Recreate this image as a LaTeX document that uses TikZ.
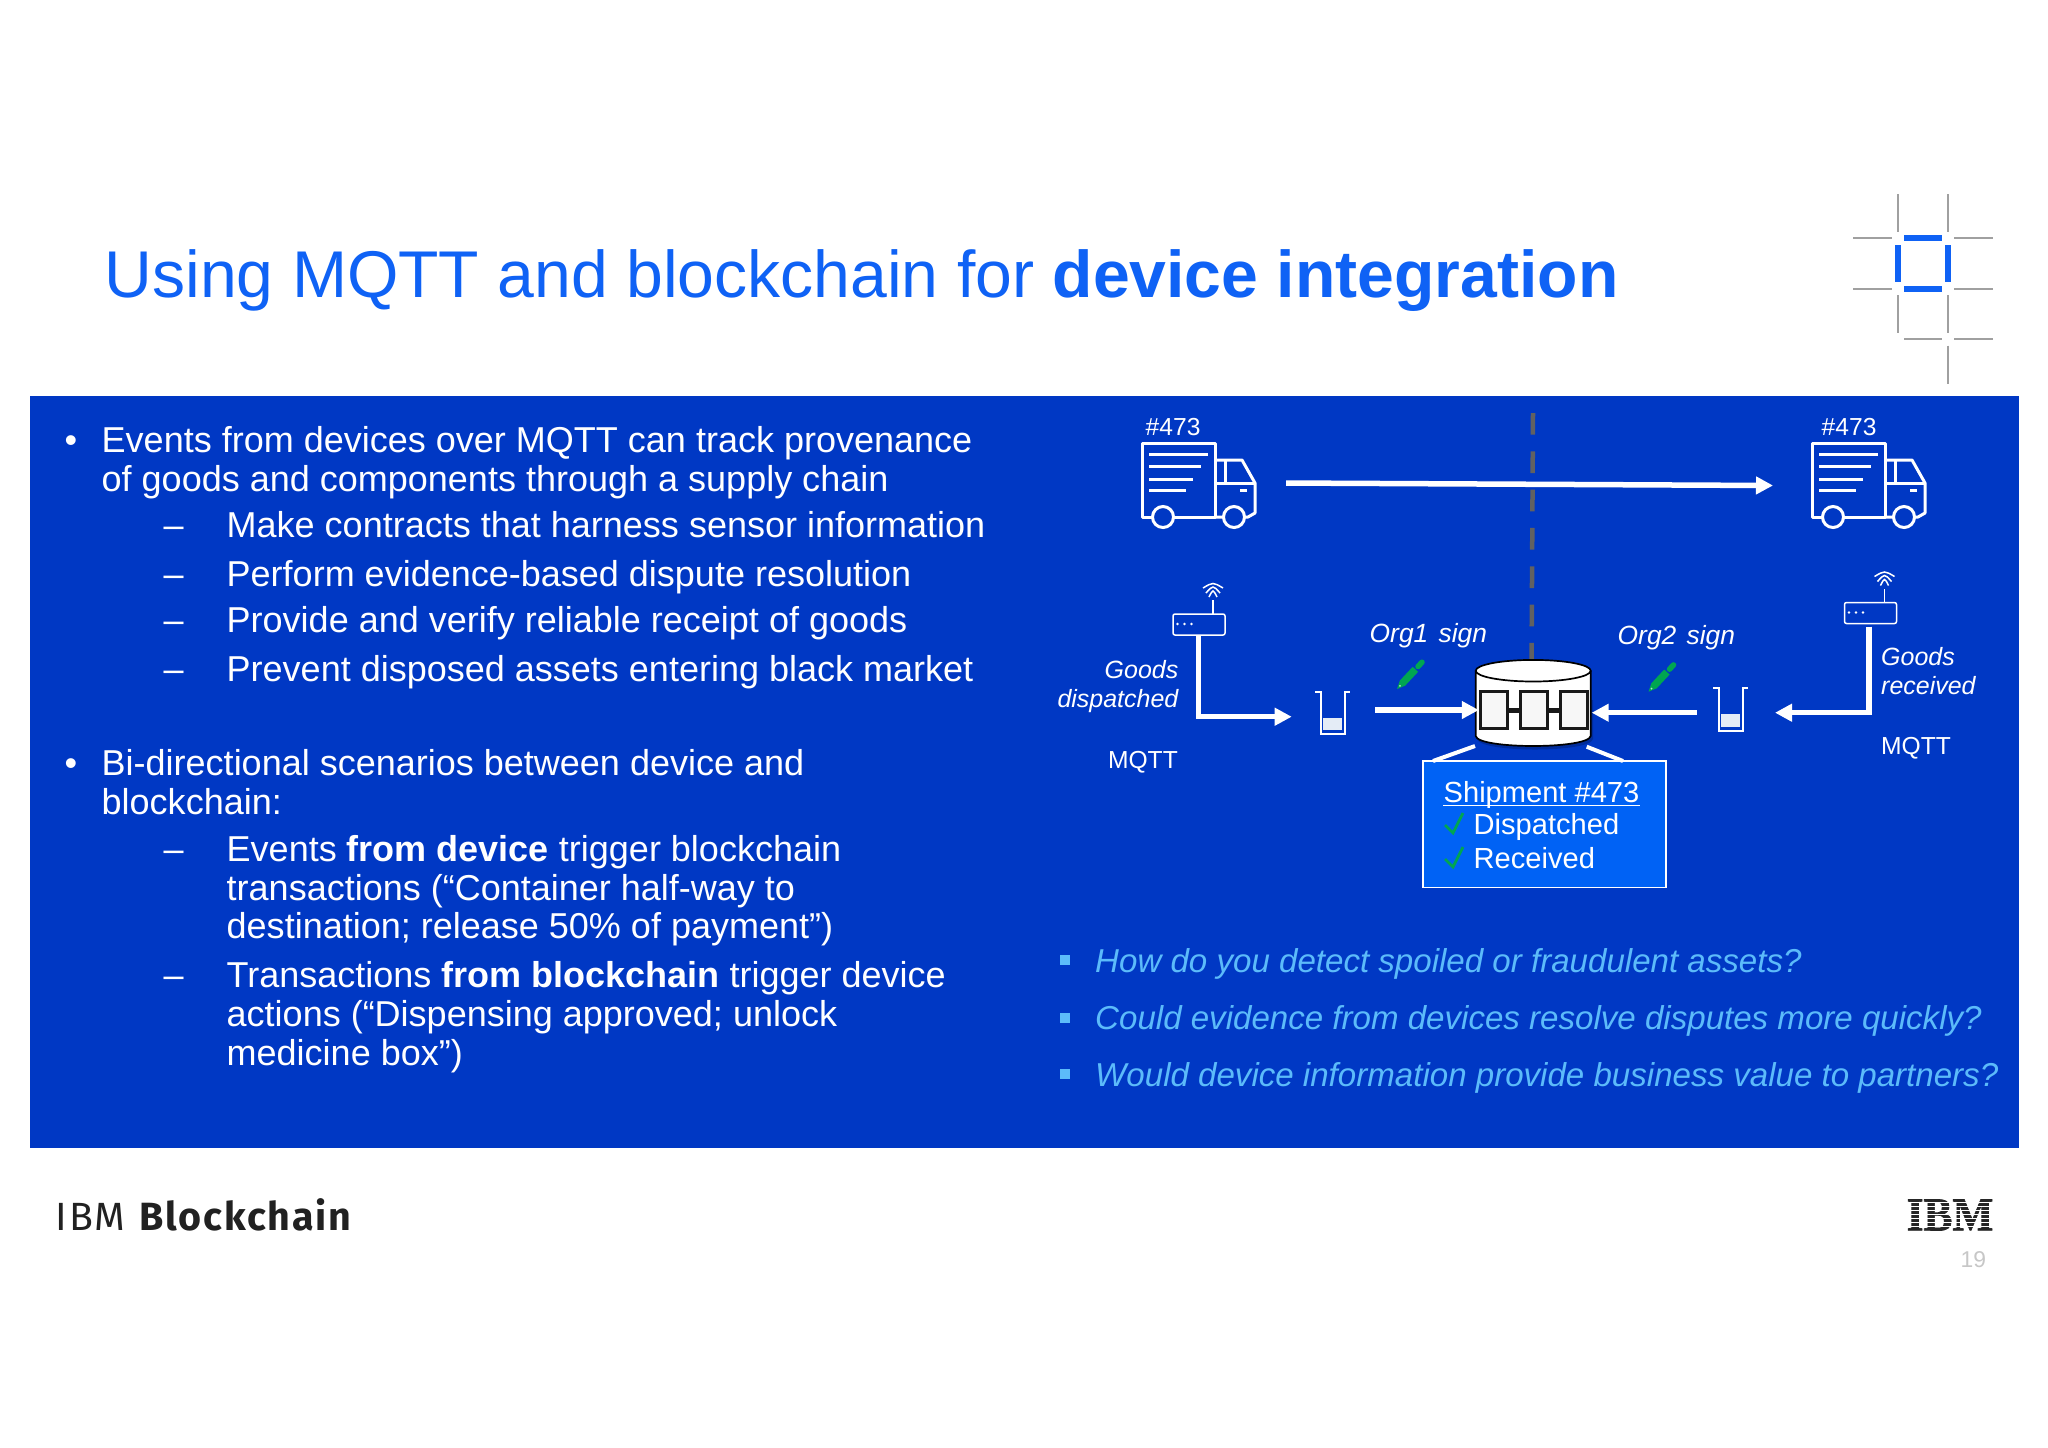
\documentclass[tikz,border=0pt]{standalone}
\usepackage{xcolor}
\usepackage{fontspec}
\usepackage{tikz}
\usetikzlibrary{arrows.meta}
\usetikzlibrary{positioning}
\setmainfont{Liberation Sans}
\newfontfamily\footerfont[LetterSpace=4.5]{Fira Sans}
\newfontfamily\logofont[BoldFeatures={FakeBold=1.5}]{Liberation Serif}
\definecolor{panelblue}{HTML}{0038C4}
\definecolor{titleblue}{HTML}{0F62F5}
\definecolor{boxblue}{HTML}{0062F5}
\definecolor{askblue}{HTML}{5CBBFA}
\definecolor{signgreen}{HTML}{00A651}
\definecolor{gridgray}{HTML}{A0A0A0}
\definecolor{liquid}{HTML}{E4ECF6}
\tikzset{
  bodyline/.style={anchor=base west,inner sep=0pt,text=white,font=\fontsize{10.24}{12}\selectfont},
  askline/.style={anchor=base west,inner sep=0pt,text=askblue,font=\fontsize{9.41}{11}\selectfont\itshape},
  smallline/.style={inner sep=0pt,text=white,font=\fontsize{7}{8}\selectfont},
  goodsline/.style={inner sep=0pt,text=white,font=\fontsize{7.1}{8}\selectfont\itshape},
  signline/.style={anchor=base west,inner sep=0pt,text=white,font=\fontsize{7.5}{9}\selectfont\itshape},
  boxline/.style={anchor=base west,inner sep=0pt,text=white,font=\fontsize{8.27}{10}\selectfont},
  flow/.style={white,line width=0.055cm,-{Triangle[length=0.17cm,width=0.17cm]}},
  blockbox/.style={draw=black!90,fill=black!3,line width=0.028cm,minimum width=0.27cm,minimum height=0.375cm,inner sep=0pt},
  pics/truck/.style={code={
    \draw[white,line width=0.03cm,line join=round] (0,74) -- (0,0) -- (73,0) -- (73,74) -- cycle;
    \draw[white,line width=0.03cm,line join=round] (73,17) -- (100,17) -- (113,40) -- (113,70) -- (106,74) -- (73,74);
    \draw[white,line width=0.03cm] (83,17) -- (83,40) (73,40) -- (113,40);
    \foreach \y/\e in {11/66,23/59,36/51,47/44} \draw[white,line width=0.03cm] (7,\y) -- (\e,\y);
    \draw[white,line width=0.03cm] (98,47) -- (105,47);
    \foreach \x in {21,92} \draw[white,line width=0.03cm,fill=panelblue] (\x,74) circle[radius=10.5];
  }},
  pics/router/.style={code={
    \draw[white,line width=0.015cm,rounded corners=0.02cm] (0,0) rectangle (52,21);
    \foreach \x in {4.5,11.5,18.5} \fill[white] (\x,10) circle[radius=1.4];
    \draw[white,line width=0.015cm] (40,0) -- (40,-14);
    \draw[white,line width=0.015cm] (30,-26) .. controls (40,-32) .. (50,-26);
    \draw[white,line width=0.015cm] (33,-21) .. controls (40,-29) .. (47,-21);
    \draw[white,line width=0.015cm] (36,-17) .. controls (40,-25) .. (44,-17);
  }},
  pics/beaker/.style={code={
    \fill[liquid] (8,26) rectangle (27,38.3);
    \draw[white,line width=0.018cm] (0,0) -- (5.4,0) -- (5.4,42.6) -- (29.7,42.6) -- (29.7,0) -- (34.7,0);
  }},
  pics/pencil/.style={code={
    \fill[signgreen] (0,0) -- (2.8,-8.4) -- (15.7,-22.2) -- (21.1,-17.2) -- (8.2,-3.4) -- cycle;
    \draw[signgreen,line width=0.055cm,line cap=round] (21,-22.5) -- (25,-26.8);
    \fill[white!70!signgreen] (3,-3.2) circle[radius=1];
  }},
  pics/tick/.style={code={
    \draw[signgreen,line width=0.028cm] (0,12) -- (8,20) -- (18,0);
  }}
}
\begin{document}
\begin{tikzpicture}[x=0.01cm,y=-0.01cm]
  \useasboundingbox (0,0) rectangle (2048,1447);
  \fill[white] (0,0) rectangle (2048,1447);
  \fill[panelblue] (30,396) rectangle (2019,1148);

  \node[anchor=base west,inner sep=0pt,text=titleblue,font=\fontsize{18.8}{23}\selectfont] (title) at (104,297) {Using MQTT and blockchain for \textbf{device integration}};

  \foreach \x in {1897.7,1947.7} {
    \draw[gridgray,line width=0.02cm] (\x,194) -- (\x,232.3);
    \draw[gridgray,line width=0.02cm] (\x,295) -- (\x,333.3);
  }
  \draw[gridgray,line width=0.02cm] (1947.7,345.7) -- (1947.7,384);
  \foreach \y in {238.3,288.7,339} \draw[gridgray,line width=0.02cm] (1954.3,\y) -- (1992.7,\y);
  \foreach \y in {238.3,288.7} \draw[gridgray,line width=0.02cm] (1853.3,\y) -- (1891.7,\y);
  \draw[gridgray,line width=0.02cm] (1904,339) -- (1941.7,339);
  \foreach \y in {238.3,288.7} \draw[titleblue,line width=0.06cm] (1904,\y) -- (1941.7,\y);
  \foreach \x in {1897.7,1947.7} \draw[titleblue,line width=0.06cm] (\x,245) -- (\x,282.3);

  \node[bodyline] (bulletA) at (64,452.5) {•};
  \node[bodyline] (eventsA) at (101,452.5) {Events from devices over MQTT can track provenance};
  \node[bodyline] (eventsB) at (101,491.5) {of goods and components through a supply chain};
  \node[bodyline] (dashA) at (163,537.5) {–};
  \node[bodyline] (makeA) at (226,537.5) {Make contracts that harness sensor information};
  \node[bodyline] (dashB) at (163,586.5) {–};
  \node[bodyline] (performA) at (226,586.5) {Perform evidence-based dispute resolution};
  \node[bodyline] (dashC) at (163,632.5) {–};
  \node[bodyline] (provideA) at (226,632.5) {Provide and verify reliable receipt of goods};
  \node[bodyline] (dashD) at (163,681.5) {–};
  \node[bodyline] (preventA) at (226,681.5) {Prevent disposed assets entering black market};
  \node[bodyline] (bulletB) at (64,775.5) {•};
  \node[bodyline] (scenarioA) at (101,775.5) {Bi-directional scenarios between device and};
  \node[bodyline] (scenarioB) at (101,814.5) {blockchain:};
  \node[bodyline] (dashE) at (163,861.5) {–};
  \node[bodyline] (deviceA) at (226,861.5) {Events \textbf{from device} trigger blockchain};
  \node[bodyline] (deviceB) at (226,900.5) {transactions (“Container half-way to};
  \node[bodyline] (deviceC) at (226,938.5) {destination; release 50\% of payment”)};
  \node[bodyline] (dashF) at (163,987.5) {–};
  \node[bodyline] (chainA) at (226,987.5) {Transactions \textbf{from blockchain} trigger device};
  \node[bodyline] (chainB) at (226,1026.5) {actions (“Dispensing approved; unlock};
  \node[bodyline] (chainC) at (226,1065.5) {medicine box”)};

  \foreach \y in {960,1017.7,1073.5} \fill[askblue] (1060,\y-5) rectangle (1070,\y+5);
  \node[askline] (askA) at (1094.5,972) {How do you detect spoiled or fraudulent assets?};
  \node[askline] (askB) at (1094.5,1029) {Could evidence from devices resolve disputes more quickly?};
  \node[askline] (askC) at (1094.5,1086) {Would device information provide business value to partners?};

  \draw[black!62,line width=0.045cm,dash pattern=on 0.217cm off 0.166cm] (1533,413) -- (1531.5,664);

  \pic at (1142,443) {truck};
  \pic at (1812,443) {truck};
  \node[smallline,anchor=base west] (tagA) at (1145,435) {\#473};
  \node[smallline,anchor=base west] (tagB) at (1821,435) {\#473};
  \coordinate (shipfrom) at (1286,483);
  \coordinate (shipto) at (1773,485.5);
  \draw[flow] (shipfrom) -- (shipto);

  \pic at (1173,614) {router};
  \pic at (1844.5,602.5) {router};
  \node[goodsline,anchor=base east] (goodsA) at (1179,678) {Goods};
  \node[goodsline,anchor=base east] (goodsB) at (1179,707) {dispatched};
  \node[smallline,anchor=base east] (mqttA) at (1178.5,768) {MQTT};
  \node[goodsline,anchor=base west] (goodsC) at (1880.5,665) {Goods};
  \node[goodsline,anchor=base west] (goodsD) at (1880.5,694) {received};
  \node[smallline,anchor=base west] (mqttB) at (1880.5,754) {MQTT};

  \coordinate (routerA) at (1198.3,635);
  \coordinate (queueA) at (1291.7,716.7);
  \coordinate (routerB) at (1869,626.7);
  \coordinate (queueB) at (1775,712.7);
  \draw[flow] (routerA) |- (queueA);
  \draw[flow] (routerB) |- (queueB);

  \pic at (1315.3,691.7) {beaker};
  \pic at (1713.3,688.3) {beaker};

  \node[signline] (signA) at (1369,642) {Org1\hspace{0.03cm} sign};
  \node[signline] (signB) at (1617,644) {Org2\hspace{0.03cm} sign};
  \pic at (1397,689) {pencil};
  \pic at (1648.5,691.7) {pencil};

  \fill[black,opacity=0.2] (1477,700) -- (1477,739) .. controls (1480,753) and (1590,753) .. (1593,739) -- (1593,700) -- cycle;
  \draw[black,line width=0.017cm,fill=white] (1475.7,670.7) -- (1475.7,736) .. controls (1478,749.3) and (1588,749.3) .. (1590.7,736) -- (1590.7,670.7);
  \draw[black,line width=0.017cm,fill=white] (1533.2,670.7) ellipse[x radius=57.5,y radius=10.8];
  \node[blockbox] (blockA) at (1493.7,710) {};
  \node[blockbox] (blockB) at (1534,710) {};
  \node[blockbox] (blockC) at (1573.8,710) {};
  \draw[black!90,line width=0.05cm] (blockA) -- (blockB);
  \draw[black!90,line width=0.05cm] (blockB) -- (blockC);

  \coordinate (signfromA) at (1375,710);
  \coordinate (signfromB) at (1696.7,712.7);
  \coordinate (signtoB) at (1591.7,712.7);
  \draw[flow] (signfromA) -- (blockA.west);
  \draw[flow] (signfromB) -- (signtoB);

  \node[draw=white,fill=boxblue,line width=0.015cm,minimum width=2.424cm,minimum height=1.267cm,inner sep=0pt] (shipbox) at (1544.5,824.3) {};
  \coordinate (legA) at (1475,746);
  \coordinate (legB) at (1586.7,746.7);
  \coordinate (footA) at (1433,761);
  \coordinate (footB) at (1623,761);
  \draw[white,line width=0.04cm] (legA) -- (footA);
  \draw[white,line width=0.04cm] (legB) -- (footB);
  \node[boxline] (shiptitle) at (1443,802) {Shipment \#473};
  \draw[white,line width=0.012cm] ([yshift=-0.035cm]shiptitle.base west) -- ([yshift=-0.035cm]shiptitle.base east);
  \node[boxline] (shipdone) at (1473,834) {Dispatched};
  \node[boxline] (shipgot) at (1473,868) {Received};
  \pic at (1445,813) {tick};
  \pic at (1445,847) {tick};

  \node[anchor=base west,inner sep=0pt,text=black!87,font=\fontsize{11.2}{13}\selectfont\footerfont] (brand) at (55,1230) {IBM \textbf{Blockchain}};
  \node[anchor=west,inner sep=0pt,text=black!85,font=\fontsize{13.4}{15}\selectfont\bfseries\logofont,xscale=0.92] (ibmlogo) at (1906,1215) {IBM};
  \foreach \y in {1202.5,1206.5,1210.5,1214.5,1218.5,1222.5,1226.5} \draw[white,line width=0.014cm] (1900,\y) -- (1996,\y);
  \node[anchor=base west,inner sep=0pt,text=black!22,font=\fontsize{6.5}{8}\selectfont] (pagenum) at (1960,1267) {19};
\end{tikzpicture}
\end{document}
